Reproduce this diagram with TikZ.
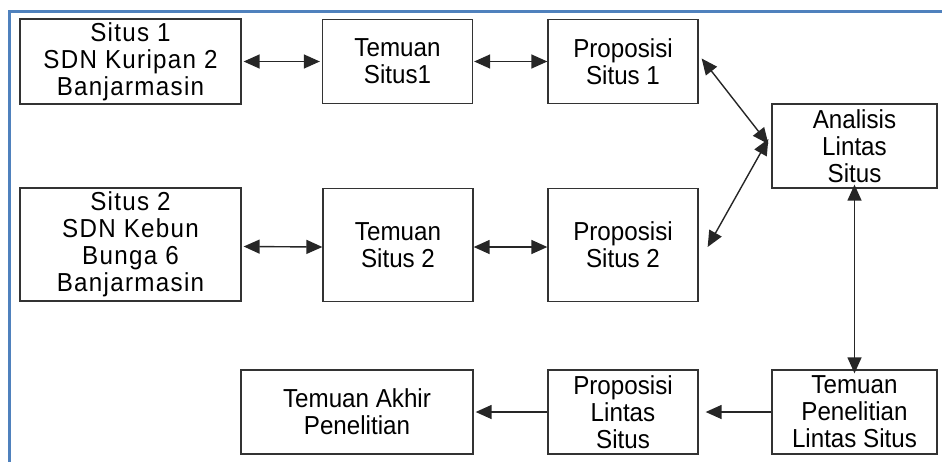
\documentclass[tikz,border=0pt]{standalone}
\usepackage{fontspec}
\setmainfont{Liberation Sans}[FakeStretch=0.93]
\newfontfamily\spacedfont{Liberation Sans}[FakeStretch=0.93,LetterSpace=5]
\usetikzlibrary{arrows.meta}
\begin{document}
\begin{tikzpicture}[x=1pt,y=-1pt,
  box/.style={draw=black!80,line width=1.3pt,rectangle,inner sep=0pt,align=center,
    font=\fontsize{26}{27}\selectfont},
  sbox/.style={box,font=\spacedfont\fontsize{26}{27}\selectfont},
  conn/.style={draw=black!85,line width=1.4pt,-{Triangle[length=16pt,width=14pt]}},
  bconn/.style={draw=black!85,line width=1.4pt,{Triangle[length=16pt,width=14pt]}-{Triangle[length=16pt,width=14pt]}}]
\useasboundingbox (0,0) rectangle (942,461);
\begin{scope}
\clip (0,0) rectangle (942,461);
\draw[draw={rgb,255:red,79;green,129;blue,189},line width=3pt] (9.5,11.5) rectangle (960,480);
\end{scope}
\node[sbox,minimum width=221pt,minimum height=85pt] (s1) at (130.5,61.5) {Situs 1\\SDN Kuripan 2\\Banjarmasin};
\node[box,minimum width=150pt,minimum height=84pt] (t1) at (397.5,61.5) {Temuan\\Situs1};
\node[box,minimum width=150pt,minimum height=84pt] (p1) at (623,61.5) {Proposisi\\Situs 1};
\node[box,minimum width=165pt,minimum height=84pt] (an) at (854.5,146) {Analisis\\Lintas\\Situs};
\node[sbox,minimum width=221pt,minimum height=113pt] (s2) at (130.5,244.5) {Situs 2\\SDN Kebun\\Bunga 6\\Banjarmasin};
\node[box,minimum width=150pt,minimum height=113pt] (t2) at (398,245) {Temuan\\Situs 2};
\node[box,minimum width=150pt,minimum height=113pt] (p2) at (623,245) {Proposisi\\Situs 2};
\node[box,minimum width=232pt,minimum height=84pt] (ta) at (357,412) {Temuan Akhir\\Penelitian};
\node[box,minimum width=150pt,minimum height=84pt] (pl) at (623,412) {Proposisi\\Lintas\\Situs};
\node[box,minimum width=165pt,minimum height=84pt] (tp) at (854.5,412) {Temuan\\Penelitian\\Lintas Situs};
\draw[bconn] ([xshift=2pt]s1.east) -- ([xshift=-2pt]t1.west);
\draw[bconn] ([xshift=1pt]t1.east) -- (p1.west);
\draw[bconn] ([xshift=3pt,yshift=3pt]p1.east) -- ([xshift=-3pt,yshift=2pt]an.west);
\draw[bconn] ([xshift=-3pt,yshift=7pt]an.west) -- ([xshift=9pt,yshift=-2pt]p2.east);
\draw[bconn] ([yshift=4pt]an.south) -- ([yshift=-4pt]tp.north);
\draw[bconn] ([xshift=2pt,yshift=-2pt]s2.east) -- ([yshift=-2pt]t2.west);
\draw[bconn] ([yshift=-2pt]t2.east) -- ([yshift=-2pt]p2.west);
\draw[conn] (tp.west) -- ([xshift=7pt]pl.east);
\draw[conn] (pl.west) -- ([xshift=2pt]ta.east);
\end{tikzpicture}
\end{document}
